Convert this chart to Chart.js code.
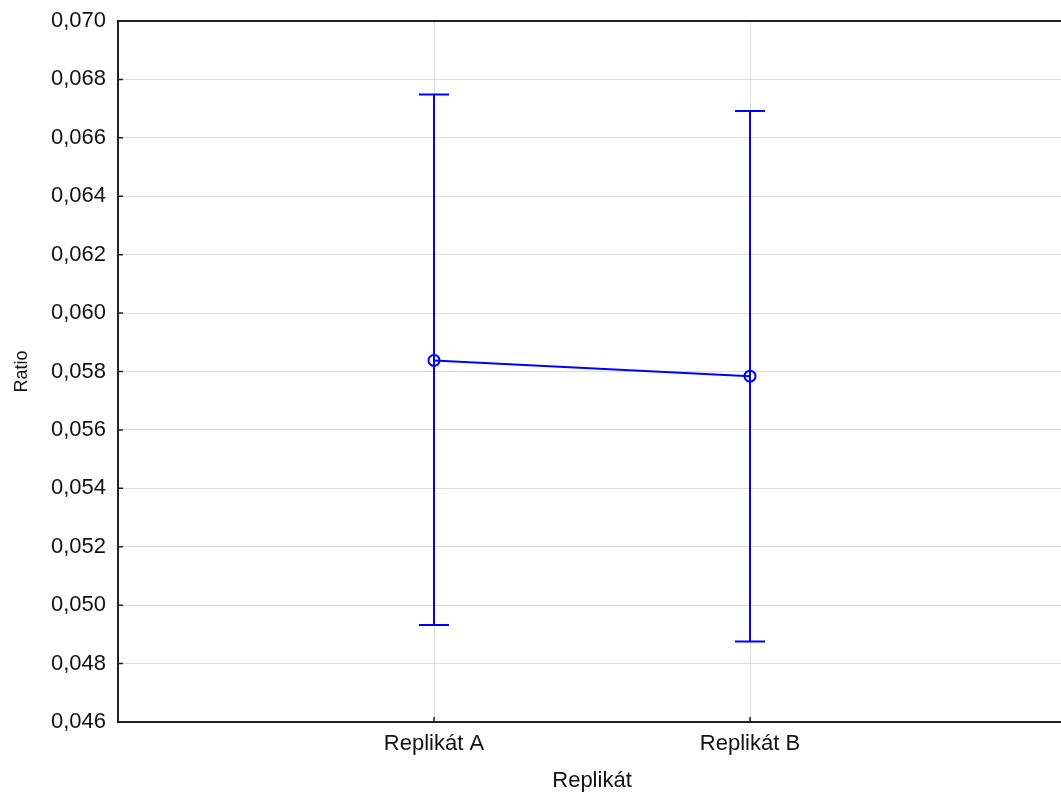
<!DOCTYPE html>
<html>
<head>
<meta charset="utf-8">
<script src="https://cdn.jsdelivr.net/npm/chart.js@4.4.0/dist/chart.umd.min.js"></script>
<style>
  html, body { margin: 0; padding: 0; background: #fff; overflow: hidden; }
  #wrap { width: 1075px; height: 798px; }
</style>
</head>
<body>
<div id="wrap"><canvas id="chart"></canvas></div>
<script>
// data
const categories = ['Replikát A', 'Replikát B'];
const means = [0.05838, 0.05784];
const upper = [0.06748, 0.06692];
const lower = [0.04932, 0.04876];
const yTicks = { min: 0.046, max: 0.070, step: 0.002 };

// empty slots on both ends so the two groups sit at 1/3 and 2/3
const labels = [''].concat(categories, ['']);
const pad = arr => [null].concat(arr, [null]);

const blue = '#0000ff';
const font = 'Arial, Liberation Sans';

const errorBars = {
  id: 'errorBars',
  afterDatasetsDraw(chart) {
    const ctx = chart.ctx, x = chart.scales.x, y = chart.scales.y;
    ctx.save();
    ctx.strokeStyle = blue;
    ctx.lineWidth = 2;
    categories.forEach((c, i) => {
      const px = x.getPixelForValue(i + 1);
      const top = y.getPixelForValue(upper[i]);
      const bot = y.getPixelForValue(lower[i]);
      ctx.beginPath();
      ctx.moveTo(px, top); ctx.lineTo(px, bot);
      ctx.moveTo(px - 15, top); ctx.lineTo(px + 15, top);
      ctx.moveTo(px - 15, bot); ctx.lineTo(px + 15, bot);
      ctx.stroke();
    });
    ctx.restore();
  },
  afterDraw(chart) {
    // frame and inward tick marks
    const ctx = chart.ctx, a = chart.chartArea, x = chart.scales.x, y = chart.scales.y;
    ctx.save();
    ctx.strokeStyle = '#222';
    ctx.lineWidth = 2;
    ctx.strokeRect(a.left, a.top, a.right - a.left, a.bottom - a.top);
    ctx.lineWidth = 1.5;
    ctx.beginPath();
    y.ticks.forEach(t => {
      const py = y.getPixelForValue(t.value);
      ctx.moveTo(a.left, py); ctx.lineTo(a.left + 5, py);
      ctx.moveTo(a.right, py); ctx.lineTo(a.right - 5, py);
    });
    categories.forEach((c, i) => {
      const px = x.getPixelForValue(i + 1);
      ctx.moveTo(px, a.bottom); ctx.lineTo(px, a.bottom - 5);
    });
    ctx.stroke();
    ctx.restore();
  }
};

new Chart(document.getElementById('chart'), {
  type: 'line',
  data: {
    labels: labels,
    datasets: [{
      data: pad(means),
      borderColor: blue,
      borderWidth: 2,
      pointRadius: 5.5,
      pointBorderWidth: 2,
      pointBackgroundColor: 'rgba(255,255,255,0)',
      pointBorderColor: blue
    }]
  },
  options: {
    responsive: true,
    maintainAspectRatio: false,
    animation: false,
    layout: { padding: { top: 21, right: 0, left: 0, bottom: 0 } },
    plugins: { legend: { display: false }, tooltip: { enabled: false } },
    scales: {
      x: {
        offset: false,
        grid: { color: '#dcdcdc', drawTicks: false },
        border: { display: false },
        ticks: { color: '#111', font: { family: font, size: 22 }, padding: 9, maxRotation: 0, autoSkip: false },
        title: { display: true, text: 'Replikát', color: '#111', font: { family: font, size: 22 }, padding: { top: 6, bottom: 4 } },
        afterFit(s) { s.height = 76; }
      },
      y: {
        min: yTicks.min,
        max: yTicks.max,
        grid: { color: '#dcdcdc', drawTicks: false },
        border: { display: false },
        ticks: {
          stepSize: yTicks.step,
          color: '#111',
          font: { family: font, size: 22 },
          padding: 12,
          callback: v => v.toFixed(3).replace('.', ',')
        },
        title: { display: true, text: 'Ratio', color: '#111', font: { family: font, size: 18 }, padding: { top: 11, bottom: 4 } },
        afterFit(s) { s.width = 118; s.paddingTop = 0; s.paddingBottom = 0; }
      }
    }
  },
  plugins: [errorBars]
});
</script>
</body>
</html>
